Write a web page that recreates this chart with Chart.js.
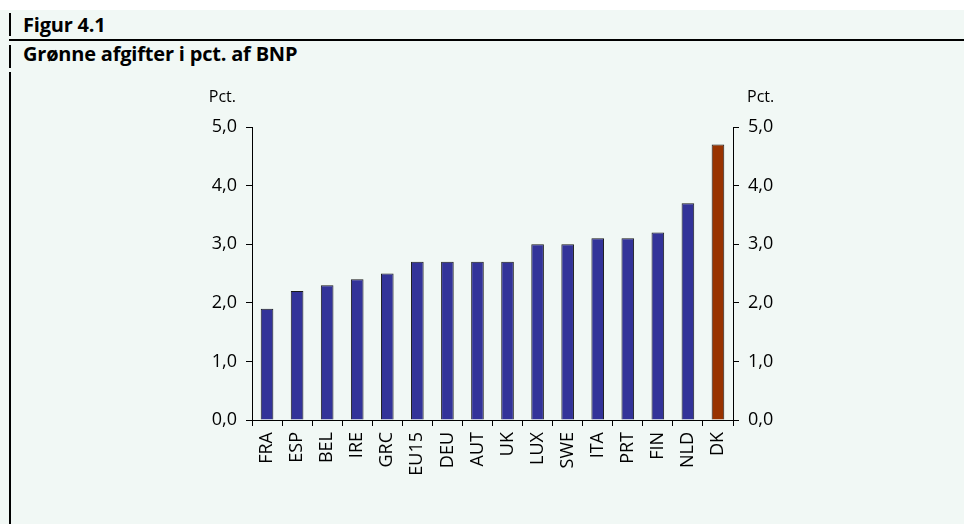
<!DOCTYPE html>
<html>
<head>
<meta charset="utf-8">
<script src="https://cdn.jsdelivr.net/npm/chart.js@4.4.0/dist/chart.umd.min.js"></script>
<style>
  html, body { margin: 0; padding: 0; background: #fff; }
  #page { position: absolute; left: 0; top: 10px; width: 964px; height: 514px; background: #f1f8f5; }
  .vline { position: absolute; left: 9px; width: 1.5px; background: #000; }
  .hline { position: absolute; left: 9px; top: 39px; width: 955px; height: 1.5px; background: #000; }
  .head { position: absolute; left: 23px; font-family: "Open Sans", sans-serif; font-weight: bold; font-size: 20px; line-height: 24px; color: #000; letter-spacing: -0.2px; }
  #chartBox { position: absolute; left: 0; top: 0; width: 964px; height: 524px; }
</style>
</head>
<body>
<div id="page"></div>
<div class="vline" style="top:13px;height:23px"></div>
<div class="vline" style="top:45px;height:23px"></div>
<div class="vline" style="top:72px;height:452px"></div>
<div class="hline"></div>
<div class="head" style="top:13px">Figur 4.1</div>
<div class="head" style="top:42px">Grønne afgifter i pct. af BNP</div>
<div id="chartBox"><canvas id="chart" width="964" height="524"></canvas></div>
<script>
var countries = ['FRA', 'ESP', 'BEL', 'IRE', 'GRC', 'EU15', 'DEU', 'AUT', 'UK', 'LUX', 'SWE', 'ITA', 'PRT', 'FIN', 'NLD', 'DK'];
var greenTaxes = [1.9, 2.2, 2.3, 2.4, 2.5, 2.7, 2.7, 2.7, 2.7, 3.0, 3.0, 3.1, 3.1, 3.2, 3.7, 4.7];
var barColors = ['#333399', '#333399', '#333399', '#333399', '#333399', '#333399', '#333399', '#333399',
                 '#333399', '#333399', '#333399', '#333399', '#333399', '#333399', '#333399', '#993300'];
var yTicks = [0, 1, 2, 3, 4, 5];
var unitLabel = 'Pct.';

var tickFont = { family: 'Open Sans', size: 18 };

// "Pct." over each y axis
var unitPlugin = {
    id: 'unitLabels',
    afterDraw: function (chart) {
        var ctx = chart.ctx;
        var area = chart.chartArea;
        ctx.save();
        ctx.fillStyle = '#000';
        ctx.font = '16px "Open Sans"';
        ctx.textBaseline = 'middle';
        ctx.textAlign = 'right';
        ctx.fillText(unitLabel, area.left - 16, 97);
        ctx.textAlign = 'left';
        ctx.fillText(unitLabel, area.right + 14, 97);
        ctx.restore();
    }
};

function yAxis(pos, width) {
    return {
        position: pos,
        min: 0,
        max: 5,
        afterBuildTicks: function (scale) {
            scale.ticks = yTicks.map(function (v) { return { value: v }; });
        },
        afterFit: function (scale) { scale.width = width; },
        border: { display: true, color: '#000', width: 1 },
        grid: { drawOnChartArea: false, drawTicks: true, tickLength: 6, color: '#000' },
        ticks: {
            color: '#000',
            font: tickFont,
            padding: 9,
            callback: function (v) { return v.toFixed(1).replace('.', ','); }
        }
    };
}

new Chart(document.getElementById('chart').getContext('2d'), {
    type: 'bar',
    data: {
        labels: countries,
        datasets: [{
            data: greenTaxes,
            backgroundColor: barColors,
            borderColor: '#1a1a1a',
            borderWidth: 1,
            categoryPercentage: 1,
            barPercentage: 0.42
        }]
    },
    options: {
        responsive: false,
        animation: false,
        devicePixelRatio: 1,
        layout: { padding: { top: 127, left: 0, right: 0, bottom: 0 } },
        plugins: { legend: { display: false }, tooltip: { enabled: false } },
        scales: {
            x: {
                afterFit: function (scale) { scale.height = 104; },
                border: { display: true, color: '#000', width: 1 },
                grid: { drawOnChartArea: false, drawTicks: true, tickLength: 6, color: '#000', offset: true },
                ticks: { color: '#000', font: tickFont, minRotation: 90, maxRotation: 90, padding: 6 }
            },
            y: yAxis('left', 252),
            y2: yAxis('right', 231)
        }
    },
    plugins: [unitPlugin]
});
</script>
</body>
</html>
